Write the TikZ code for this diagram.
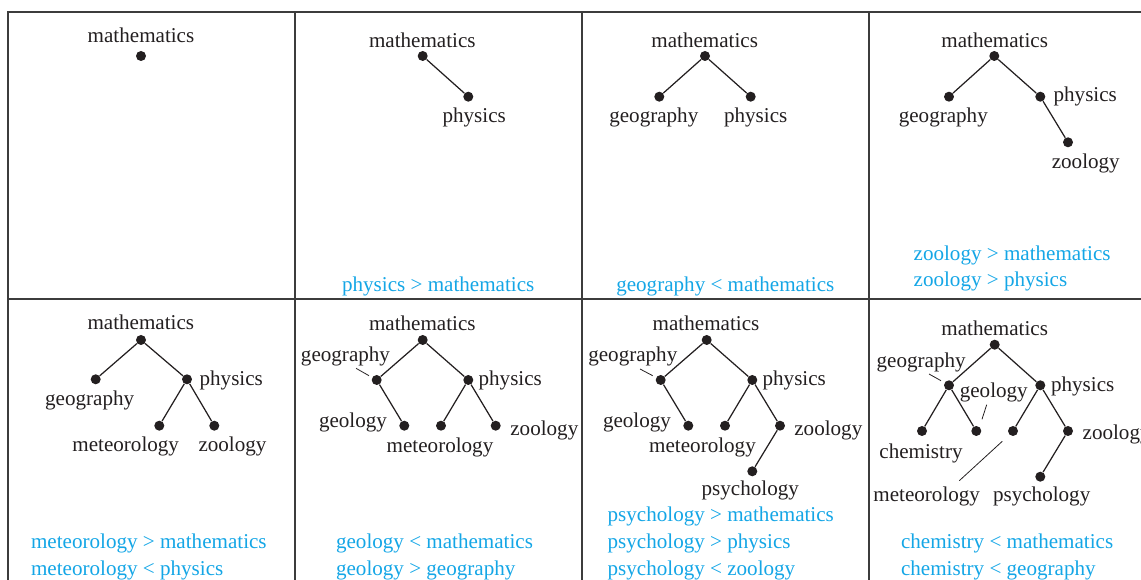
\documentclass[tikz,border=0pt]{standalone}
\usepackage{fontspec}
\setmainfont{Liberation Serif}
\usetikzlibrary{positioning}
\definecolor{ink}{HTML}{231F20}
\definecolor{frame}{HTML}{3C3C3C}
\definecolor{relblue}{HTML}{14A6E6}

\begin{document}
\begin{tikzpicture}[
  x=0.2mm, y=-0.2mm,
  font=\fontsize{12}{14}\selectfont,
  vert/.style={circle, fill=ink, inner sep=0pt, minimum size=2mm},
  word/.style={text=ink, inner sep=0pt, anchor=base, yshift=-0.3mm},
  wordr/.style={text=ink, inner sep=0pt, anchor=base west, yshift=-0.3mm},
  rel/.style={text=relblue, inner sep=0pt, anchor=base west, yshift=-0.2mm},
  relc/.style={text=relblue, inner sep=0pt, anchor=base, yshift=-0.2mm},
  link/.style={draw=ink, line width=0.7pt},
  leader/.style={draw=ink, line width=0.45pt},
  cell/.style={draw=frame, line width=0.8pt}
]
\useasboundingbox (0,0) rectangle (1141,580);
\clip (0,0) rectangle (1141,580);

% grid of panels
\draw[cell] (1160,12) -- (8,12) -- (8,600);
\draw[cell] (8,299) -- (1160,299);
\foreach \x in {295,582,869} \draw[cell] (\x,12) -- (\x,600);

% panel 1
\node[vert] (m1) at (141,56) {};
\node[word] (m1l) at (141,40.7) {mathematics};

% panel 2
\node[vert] (m2) at (422.7,56) {};
\node[vert] (p2) at (468.3,96.7) {};
\draw[link] (m2) -- (p2);
\node[word] (m2l) at (422.3,46) {mathematics};
\node[word] (p2l) at (474.2,120.7) {physics};
\node[relc] (r2a) at (438.2,290.7) {physics > mathematics};

% panel 3
\node[vert] (m3) at (705,56) {};
\node[vert] (g3) at (659.3,96.7) {};
\node[vert] (p3) at (750.7,96.7) {};
\draw[link] (g3) -- (m3) -- (p3);
\node[word] (m3l) at (704.7,46) {mathematics};
\node[word] (g3l) at (653.8,120.7) {geography};
\node[word] (p3l) at (755.7,120.7) {physics};
\node[relc] (r3a) at (725.3,290.7) {geography < mathematics};

% panel 4
\node[vert] (m4) at (994.3,56) {};
\node[vert] (g4) at (949,96.7) {};
\node[vert] (p4) at (1040.3,96.7) {};
\node[vert] (z4) at (1068,142.3) {};
\draw[link] (g4) -- (m4) -- (p4) -- (z4);
\node[word] (m4l) at (994.7,46) {mathematics};
\node[word] (g4l) at (943.3,120.7) {geography};
\node[wordr] (p4l) at (1053.3,100) {physics};
\node[word] (z4l) at (1085.8,166.7) {zoology};
\node[rel] (r4a) at (913.3,259.3) {zoology > mathematics};
\node[rel] (r4b) at (913.3,286) {zoology > physics};

% panel 5
\node[vert] (m5) at (141,340) {};
\node[vert] (g5) at (95.7,379.3) {};
\node[vert] (p5) at (187,379.3) {};
\node[vert] (e5) at (159.3,425.7) {};
\node[vert] (z5) at (214.3,425.7) {};
\draw[link] (g5) -- (m5) -- (p5);
\draw[link] (e5) -- (p5) -- (z5);
\node[word] (m5l) at (140.8,327.7) {mathematics};
\node[word] (g5l) at (89.7,404.3) {geography};
\node[wordr] (p5l) at (199.3,384.3) {physics};
\node[word] (e5l) at (125.7,450) {meteorology};
\node[word] (z5l) at (232.5,450) {zoology};
\node[rel] (r5a) at (30.7,547.7) {meteorology > mathematics};
\node[rel] (r5b) at (30.7,574.3) {meteorology < physics};

% panel 6
\node[vert] (m6) at (422.7,340) {};
\node[vert] (g6) at (376.7,380) {};
\node[vert] (p6) at (468.3,380) {};
\node[vert] (o6) at (404.3,425.7) {};
\node[vert] (e6) at (441,425.7) {};
\node[vert] (z6) at (495.7,425.7) {};
\draw[link] (g6) -- (m6) -- (p6);
\draw[link] (g6) -- (o6);
\draw[link] (e6) -- (p6) -- (z6);
\node[word] (m6l) at (422.3,329.3) {mathematics};
\node[word] (g6l) at (345.5,360) {geography};
\coordinate (g6a) at (356,368.3);
\coordinate (g6b) at (369,375.7);
\draw[leader] (g6a) -- (g6b);
\node[wordr] (p6l) at (478.3,384.3) {physics};
\node[word] (o6l) at (353,426) {geology};
\node[word] (e6l) at (440,451) {meteorology};
\node[wordr] (z6l) at (510,434.3) {zoology};
\node[rel] (r6a) at (335.7,547.7) {geology < mathematics};
\node[rel] (r6b) at (335.7,574.3) {geology > geography};

% panel 7
\node[vert] (m7) at (706.7,340) {};
\node[vert] (g7) at (660.7,380) {};
\node[vert] (p7) at (752.3,380) {};
\node[vert] (o7) at (688.3,425.7) {};
\node[vert] (e7) at (725,425.7) {};
\node[vert] (z7) at (780,425.7) {};
\node[vert] (y7) at (752.3,471.3) {};
\draw[link] (g7) -- (m7) -- (p7);
\draw[link] (g7) -- (o7);
\draw[link] (e7) -- (p7) -- (z7) -- (y7);
\node[word] (m7l) at (706,329.3) {mathematics};
\node[word] (g7l) at (632.8,360) {geography};
\coordinate (g7a) at (640,369);
\coordinate (g7b) at (652.7,375.7);
\draw[leader] (g7a) -- (g7b);
\node[wordr] (p7l) at (762.3,384.3) {physics};
\node[word] (o7l) at (637,426) {geology};
\node[word] (e7l) at (702.5,451) {meteorology};
\node[wordr] (z7l) at (794,434.3) {zoology};
\node[word] (y7l) at (750.3,494.3) {psychology};
\node[rel] (r7a) at (607.3,521) {psychology > mathematics};
\node[rel] (r7b) at (607.3,547.7) {psychology > physics};
\node[rel] (r7c) at (607.3,574.3) {psychology < zoology};

% panel 8
\node[vert] (m8) at (994.7,344.7) {};
\node[vert] (g8) at (949,385.3) {};
\node[vert] (p8) at (1040.3,385.3) {};
\node[vert] (c8) at (922,431) {};
\node[vert] (o8) at (976.3,431) {};
\node[vert] (e8) at (1013,431) {};
\node[vert] (z8) at (1068,431) {};
\node[vert] (y8) at (1040.3,476.7) {};
\draw[link] (g8) -- (m8) -- (p8);
\draw[link] (c8) -- (g8) -- (o8);
\draw[link] (e8) -- (p8) -- (z8) -- (y8);
\node[word] (m8l) at (994.7,334.3) {mathematics};
\node[word] (g8l) at (921.2,366) {geography};
\coordinate (g8a) at (929,374);
\coordinate (g8b) at (941,380.7);
\draw[leader] (g8a) -- (g8b);
\node[word] (o8l) at (993.8,396) {geology};
\coordinate (o8a) at (986.7,404.7);
\coordinate (o8b) at (982,419.3);
\draw[leader] (o8a) -- (o8b);
\node[wordr] (p8l) at (1050.7,390) {physics};
\node[word] (c8l) at (921,456.7) {chemistry};
\node[wordr] (z8l) at (1082.3,438.3) {zoology};
\node[word] (e8l) at (926.7,500) {meteorology};
\coordinate (e8a) at (1002.3,441.3);
\coordinate (e8b) at (959.3,480.7);
\draw[leader] (e8a) -- (e8b);
\node[word] (y8l) at (1041.7,500) {psychology};
\node[rel] (r8a) at (900.7,547.7) {chemistry < mathematics};
\node[rel] (r8b) at (900.7,574.3) {chemistry < geography};
\end{tikzpicture}
\end{document}
